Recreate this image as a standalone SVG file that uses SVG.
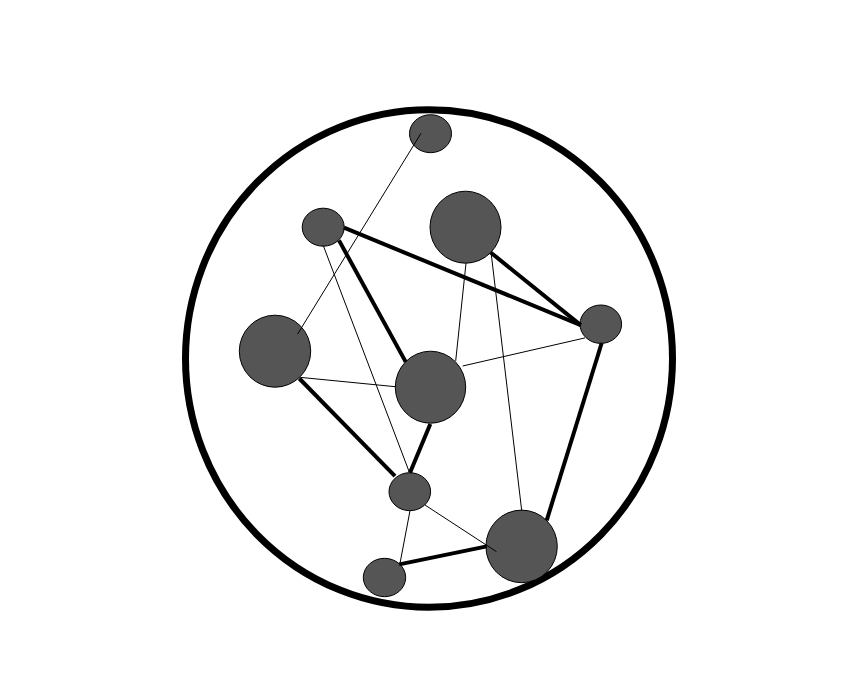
<svg xmlns="http://www.w3.org/2000/svg" width="861" height="687" viewBox="0 0 861 687">
<style>
.node{fill:#555555;stroke:#000;stroke-width:1}
.thin{stroke:#000;stroke-width:1;fill:none}
.thick{stroke:#000;stroke-width:4;fill:none}
</style>
<rect width="861" height="687" fill="#fff"/>
<ellipse id="boundary" cx="429" cy="358.5" rx="243.5" ry="248.8" fill="none" stroke="#000" stroke-width="7"/>
<g id="nodes">
<g id="n1"><ellipse class="node" cx="430.5" cy="133.7" rx="21" ry="19"/></g>
<g id="n2"><ellipse class="node" cx="323.2" cy="227.2" rx="21" ry="19"/></g>
<g id="n3"><ellipse class="node" cx="465.5" cy="227.2" rx="35.5" ry="36"/></g>
<g id="n4"><ellipse class="node" cx="600.8" cy="324.2" rx="20.8" ry="19.2"/></g>
<g id="n5"><ellipse class="node" cx="275" cy="351.2" rx="35.7" ry="36"/></g>
<g id="n6"><ellipse class="node" cx="430.5" cy="387.2" rx="35.2" ry="36"/></g>
<g id="n7"><ellipse class="node" cx="409.8" cy="491.7" rx="20.8" ry="19"/></g>
<g id="n8"><ellipse class="node" cx="521.6" cy="546.4" rx="35.7" ry="36.3"/></g>
<g id="n9"><ellipse class="node" cx="384.5" cy="577.5" rx="21.2" ry="19.2"/></g>
</g>
<g id="connectors">
<line class="thin" x1="421" y1="133.3" x2="297.5" y2="334.2"/>
<line class="thick" x1="344" y1="227.7" x2="580.7" y2="325.1"/>
<line class="thick" x1="490.7" y1="252.5" x2="580.7" y2="325.1"/>
<line class="thick" x1="339" y1="240.4" x2="405.7" y2="361.9"/>
<line class="thin" x1="323.3" y1="245.6" x2="409.3" y2="472.1"/>
<line class="thin" x1="466" y1="263.2" x2="455.7" y2="360.9"/>
<line class="thin" x1="491.3" y1="254.5" x2="521.7" y2="510.5"/>
<line class="thin" x1="585" y1="337.9" x2="462.7" y2="366"/>
<line class="thick" x1="601.7" y1="343" x2="546.7" y2="520.3"/>
<line class="thin" x1="300.7" y1="377.4" x2="395.3" y2="386.7"/>
<line class="thick" x1="299.3" y1="378.5" x2="395" y2="476.2"/>
<line class="thick" x1="430.3" y1="423.9" x2="410" y2="472.8"/>
<line class="thin" x1="425" y1="505" x2="496.5" y2="551.7"/>
<line class="thin" x1="410" y1="510.7" x2="400" y2="563.3"/>
<line class="thick" x1="399.3" y1="564.4" x2="486.7" y2="546.4"/>
</g>
</svg>
